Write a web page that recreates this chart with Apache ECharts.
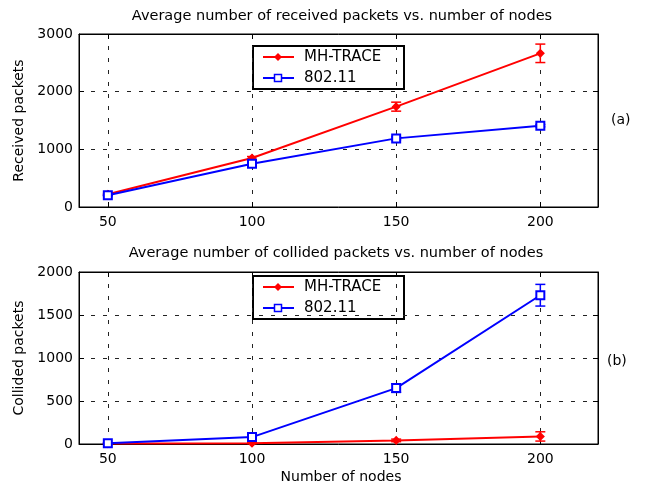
<!DOCTYPE html>
<html><head><meta charset="utf-8">
<script src="https://cdn.jsdelivr.net/npm/echarts@6/dist/echarts.min.js"></script>
<style>html,body{margin:0;padding:0;background:#fff}#c{width:652px;height:485px}</style>
</head><body><div id="c"></div>
<script>
var nodes = [50, 100, 150, 200];
var recvMH = [220, 850, 1740, 2665];
var recvMHErr = [15, 25, 78, 160];
var recv80211 = [205, 750, 1190, 1410];
var recv80211Err = [10, 15, 25, 20];
var collMH = [5, 10, 42, 88];
var collMHErr = [3, 5, 15, 54];
var coll80211 = [10, 80, 650, 1730];
var coll80211Err = [5, 10, 50, 126];
var yTicksTop = [0, 1000, 2000, 3000];
var yTicksBot = [0, 500, 1000, 1500, 2000];

var FONT = 'DejaVu Sans';
var chart = echarts.init(document.getElementById('c'));

function pairs(xs, ys){ return xs.map(function(x,i){return [x, ys[i]];}); }
function errData(xs, ys, es){ return xs.map(function(x,i){return [x, ys[i]-es[i], ys[i]+es[i]];}); }

function errSeries(xi, yi, data, color){
  return {
    type:'custom', xAxisIndex:xi, yAxisIndex:yi, silent:true, z:3,
    data:data,
    renderItem:function(params, api){
      var lo = api.coord([api.value(0), api.value(1)]);
      var hi = api.coord([api.value(0), api.value(2)]);
      var w = 5;
      var st = {stroke:color, lineWidth:1.5};
      return {type:'group', children:[
        {type:'line', shape:{x1:lo[0],y1:lo[1],x2:hi[0],y2:hi[1]}, style:st},
        {type:'line', shape:{x1:lo[0]-w,y1:lo[1],x2:lo[0]+w,y2:lo[1]}, style:st},
        {type:'line', shape:{x1:hi[0]-w,y1:hi[1],x2:hi[0]+w,y2:hi[1]}, style:st}
      ]};
    }
  };
}

var gridLine = {show:true, lineStyle:{color:'#222', type:[4,8], width:1}};

function xMain(gi){
  return {type:'value', gridIndex:gi, min:40, max:220, interval:10,
    axisLine:{show:true, onZero:false, lineStyle:{color:'#000', width:1}},
    axisTick:{show:true, inside:true, length:5, lineStyle:{color:'#000'}, customValues:nodes},
    axisLabel:{color:'#000', fontFamily:FONT, fontSize:14, margin:8, customValues:nodes,
      formatter:function(v){ return String(v); }},
    splitLine:gridLine
  };
}
function xTop(gi){
  return {type:'value', gridIndex:gi, position:'top', min:40, max:220, interval:10,
    axisLine:{show:true, onZero:false, lineStyle:{color:'#000', width:1}},
    axisTick:{show:true, inside:true, length:5, lineStyle:{color:'#000'}, customValues:nodes},
    axisLabel:{show:false, customValues:nodes}, splitLine:{show:false}};
}
function yMain(gi, ticks, name){
  return {type:'value', gridIndex:gi, min:ticks[0], max:ticks[ticks.length-1], interval:ticks[1]-ticks[0],
    name:name, nameLocation:'middle', nameGap:52, nameRotate:90,
    nameTextStyle:{color:'#000', fontFamily:FONT, fontSize:14},
    axisLine:{show:true, onZero:false, lineStyle:{color:'#000', width:1}},
    axisTick:{show:true, inside:true, length:5, lineStyle:{color:'#000'}},
    axisLabel:{color:'#000', fontFamily:FONT, fontSize:14, margin:6, formatter:function(v){return String(v);}},
    splitLine:gridLine};
}
function yRight(gi, ticks){
  return {type:'value', gridIndex:gi, position:'right', min:ticks[0], max:ticks[ticks.length-1], interval:ticks[1]-ticks[0],
    axisLine:{show:true, onZero:false, lineStyle:{color:'#000', width:1}},
    axisTick:{show:true, inside:true, length:5, lineStyle:{color:'#000'}},
    axisLabel:{show:false}, splitLine:{show:false}};
}

function lineSeries(name, xi, yi, data, color, sym, size){
  return {name:name, type:'line', xAxisIndex:xi, yAxisIndex:yi, data:data,
    symbol:sym, symbolSize:size, showSymbol:true, showAllSymbol:true,
    lineStyle:{color:color, width:2},
    itemStyle:{color:color, borderColor:color, borderWidth:1.5},
    z:4};
}

var tStyle = {color:'#000', fontFamily:FONT, fontSize:14.5, fontWeight:'normal'};
var lStyle = {color:'#000', fontFamily:FONT, fontSize:14, fontWeight:'normal'};
var option = {
  animation:false,
  backgroundColor:'#fff',
  title:[
    {text:'Average number of received packets vs. number of nodes', left:337, top:4, textAlign:'center', textStyle:tStyle},
    {text:'Average number of collided packets vs. number of nodes', left:331, top:241, textAlign:'center', textStyle:tStyle},
    {text:'(a)', left:606, top:108, textStyle:lStyle},
    {text:'(b)', left:602, top:349, textStyle:lStyle},
    {text:'Number of nodes', left:336, top:465, textAlign:'center', textStyle:lStyle}
  ],
  grid:[
    {left:79, top:34, width:519, height:173, show:true, borderColor:'#000', borderWidth:1},
    {left:79, top:272, width:519, height:172, show:true, borderColor:'#000', borderWidth:1}
  ],
  xAxis:[xMain(0), xTop(0), xMain(1), xTop(1)],
  yAxis:[yMain(0, yTicksTop, 'Received packets'), yRight(0, yTicksTop),
         yMain(1, yTicksBot, 'Collided packets'), yRight(1, yTicksBot)],
  series:[
    lineSeries('MH-TRACE', 0, 0, pairs(nodes, recvMH), '#ff0000', 'diamond', 7),
    errSeries(0, 0, errData(nodes, recvMH, recvMHErr), '#ff0000'),
    lineSeries('802.11', 0, 0, pairs(nodes, recv80211), '#0000ff', 'emptyRect', 8),
    errSeries(0, 0, errData(nodes, recv80211, recv80211Err), '#0000ff'),
    lineSeries('MH-TRACE', 2, 2, pairs(nodes, collMH), '#ff0000', 'diamond', 7),
    errSeries(2, 2, errData(nodes, collMH, collMHErr), '#ff0000'),
    lineSeries('802.11', 2, 2, pairs(nodes, coll80211), '#0000ff', 'emptyRect', 8),
    errSeries(2, 2, errData(nodes, coll80211, coll80211Err), '#0000ff')
  ]
};

function legendBox(top){
  var items = [['MH-TRACE','#ff0000','diamond'],['802.11','#0000ff','rect']];
  var children = [{type:'rect', shape:{x:0,y:0,width:151,height:43},
    style:{fill:'#fff', stroke:'#000', lineWidth:2}}];
  items.forEach(function(it, i){
    var cy = 11 + i*21;
    children.push({type:'line', shape:{x1:10,y1:cy,x2:41,y2:cy}, style:{stroke:it[1], lineWidth:2}});
    if (it[2]==='rect') {
      children.push({type:'rect', shape:{x:21.5,y:cy-3.5,width:7,height:7}, style:{fill:'#fff', stroke:it[1], lineWidth:1.5}});
    } else {
      children.push({type:'polygon', shape:{points:[[25,cy-4],[29,cy],[25,cy+4],[21,cy]]}, style:{fill:it[1]}});
    }
    children.push({type:'text', x:51, y:cy, style:{text:it[0], fill:'#000', font:'15px "' + FONT + '"', verticalAlign:'middle'}});
  });
  return {type:'group', left:252, top:top, z:100, children:children};
}
option.graphic = [legendBox(45), legendBox(275)];

chart.setOption(option);
</script>
</body></html>
